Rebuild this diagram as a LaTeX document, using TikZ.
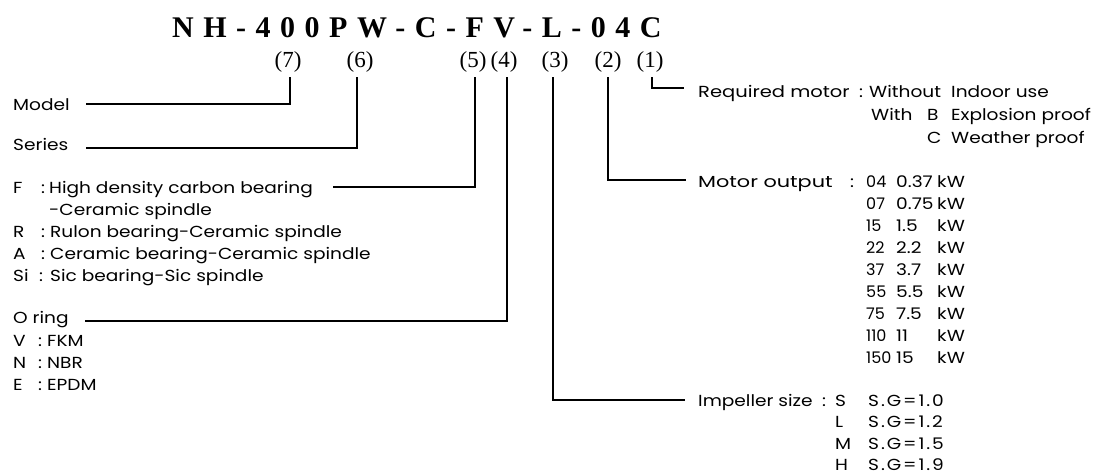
\documentclass[tikz,border=0pt]{standalone}
\usepackage{graphicx}
\usepackage{fontspec}
\setmainfont[FakeStretch=1.16]{Poppins}
\newfontfamily\popn{Poppins}
\newfontfamily\serifT{Liberation Serif}
\newfontfamily\serifTitle[LetterSpace=31.7]{Liberation Serif Bold}
\begin{document}
\begin{tikzpicture}[x=1pt,y=-1pt,
  lbl/.style={inner sep=0pt, anchor=base west, font=\fontsize{16}{16}\selectfont},
  nlbl/.style={inner sep=0pt, anchor=base west, font=\popn\fontsize{16}{16}\selectfont},
  sglbl/.style={inner sep=0pt, anchor=base west, font=\fontsize{16}{16}\selectfont\addfontfeature{LetterSpace=12}},
  num/.style={inner sep=0pt, anchor=base, font=\serifT\fontsize{23}{23}\selectfont},
  ttl/.style={inner sep=0pt, anchor=base west, font=\serifTitle\fontsize{30}{30}\selectfont},
  conn/.style={line width=1.1pt}]
\useasboundingbox (0,0) rectangle (1097,475);
\fill[white] (0,0) rectangle (1097,475);
% title
\node[ttl] (title) at (172,37) {NH-400PW-C-FV-L-04C};
% position labels and tick starts
\foreach \n/\x/\tx in {7/288/290,6/360/357,5/473/475,4/504/507,3/555/553,2/608/608,1/650/652}{
  \node[num] (n\n) at (\x,67) {(\n)};
  \coordinate (t\n) at (\tx,77);
}
% left texts
\node[lbl] (model) at (13,110) {Model};
\node[lbl] (series) at (13,150) {Series};
\node[lbl] (kF) at (13,193) {F};
\node[lbl] (cF) at (41,193) {:};
\node[lbl] (dF) at (49,193) {High density carbon bearing};
\node[lbl] (dF2) at (49,215) {-Ceramic spindle};
\node[lbl] (kR) at (13,237) {R};
\node[lbl] (cR) at (41,237) {:};
\node[lbl] (dR) at (50,237) {Rulon bearing-Ceramic spindle};
\node[lbl] (kA) at (13,259) {A};
\node[lbl] (cA) at (41,259) {:};
\node[lbl] (dA) at (50,259) {Ceramic bearing-Ceramic spindle};
\node[lbl] (kS) at (13,281) {Si};
\node[lbl] (cS) at (39,281) {:};
\node[lbl] (dS) at (50,281) {Sic bearing-Sic spindle};
\node[lbl] (oring) at (13,323) {O ring};
\foreach \k/\d/\y [count=\i] in {V/FKM/346,N/NBR/368,E/EPDM/390}{
  \node[lbl] (ko\i) at (13,\y) {\k};
  \node[lbl] (co\i) at (38,\y) {:};
  \node[lbl] (do\i) at (47,\y) {\d};
}
% right texts: required motor
\node[lbl] (req) at (698,97) {\scalebox{1.05}[1]{Required motor}};
\node[lbl] (creq) at (859,97) {:};
\node[lbl] (wo) at (869,97) {Without};
\node[lbl] (indoor) at (951,97) {Indoor use};
\node[lbl] (with) at (871,120) {With};
\node[lbl] (kB) at (927,120) {B};
\node[lbl] (expl) at (951,120) {Explosion proof};
\node[lbl] (kC) at (927,143) {C};
\node[lbl] (weat) at (951,143) {Weather proof};
% motor output
\node[lbl] (mot) at (698,187) {\scalebox{1.12}[1]{Motor output}};
\node[lbl] (cmot) at (850,187) {:};
\foreach \c/\v [count=\i from 0] in {04/0.37,07/0.75,15/1.5,22/2.2,37/3.7,55/5.5,75/7.5,110/11,150/15}{
  \node[nlbl] (mc\i) at (866,187+22*\i) {\c};
  \node[lbl] (mv\i) at (896,187+22*\i) {\v};
  \node[lbl] (mk\i) at (937,187+22*\i) {kW};
}
% impeller
\node[lbl] (imp) at (698,406) {Impeller size};
\node[lbl] (cimp) at (822,406) {:};
\foreach \c/\v [count=\i from 0] in {S/1.0,L/1.2,M/1.5,H/1.9}{
  \node[lbl] (ic\i) at (835,406+21.5*\i) {\c};
  \node[sglbl] (iv\i) at (868,406+21.5*\i) {S.G=\v};
}
% connectors
\coordinate (e7) at (86,104);
\coordinate (e6) at (86,148);
\coordinate (e5) at (333,187);
\coordinate (e4) at (85,321);
\coordinate (e3) at (685,400);
\coordinate (e2) at (686,180);
\coordinate (e1) at (684,88);
\draw[conn] (t7) |- (e7);
\draw[conn] (t6) |- (e6);
\draw[conn] (t5) |- (e5);
\draw[conn] (t4) |- (e4);
\draw[conn] (t3) |- (e3);
\draw[conn] (t2) |- (e2);
\draw[conn] (t1) |- (e1);
\end{tikzpicture}
\end{document}
